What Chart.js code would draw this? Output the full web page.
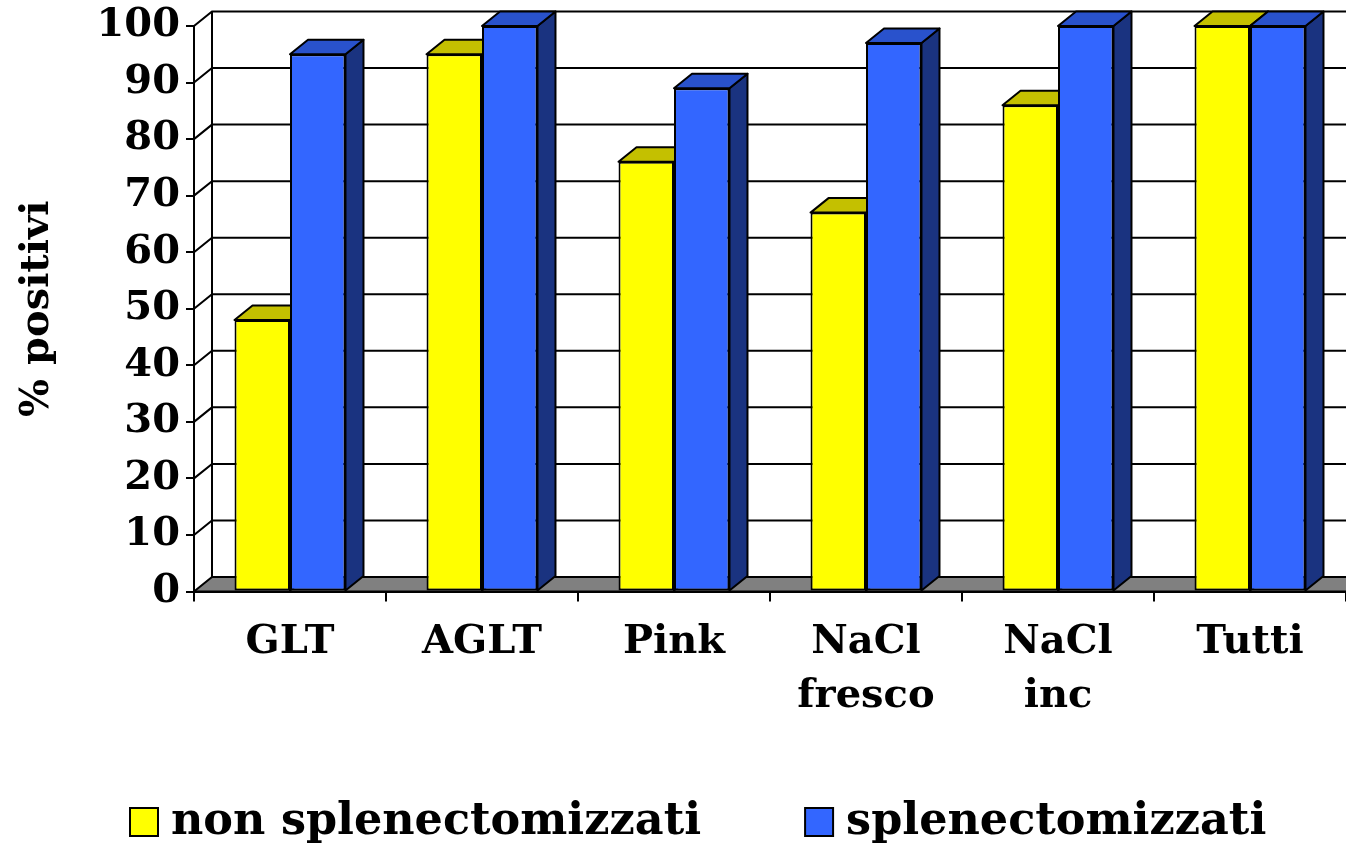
<!DOCTYPE html>
<html>
<head>
<meta charset="utf-8">
<script src="https://cdn.jsdelivr.net/npm/chart.js@4.4.0/dist/chart.umd.min.js"></script>
<style>
    html, body { margin: 0; padding: 0; background: #fff; }
</style>
</head>
<body>
<canvas id="chart" width="1346" height="848"></canvas>
<script>
const categories = ['GLT', 'AGLT', 'Pink', ['NaCl', 'fresco'], ['NaCl', 'inc'], 'Tutti'];
const nonSplenectomized = [48, 95, 76, 67, 86, 100];
const splenectomized = [95, 100, 89, 97, 100, 100];
const seriesNames = ['non splenectomizzati', 'splenectomizzati'];
const yMin = 0, yMax = 100, yStep = 10;

const DEPTH_X = 18;
const DEPTH_Y = 14.5;
const FONT = "'DejaVu Serif', serif";

// colours of the fake 3d faces
const faceColors = [
    { front: '#FFFF00', top: '#C4C000', side: '#808000' },
    { front: '#3366FF', top: '#2952CC', side: '#1A3380' }
];

const box3d = {
    id: 'box3d',
    beforeDatasetsDraw(chart) {
        const { ctx, chartArea: area, scales: { y } } = chart;
        const left = area.left, right = area.right;
        const y0 = y.getPixelForValue(yMin);
        ctx.save();

        // floor
        ctx.fillStyle = '#808080';
        ctx.beginPath();
        ctx.moveTo(left, y0);
        ctx.lineTo(left + DEPTH_X, y0 - DEPTH_Y);
        ctx.lineTo(right + DEPTH_X, y0 - DEPTH_Y);
        ctx.lineTo(right, y0);
        ctx.closePath();
        ctx.fill();

        // back wall grid + side wall diagonals
        ctx.strokeStyle = '#000';
        ctx.lineWidth = 2;
        for (let v = yMin; v <= yMax; v += yStep) {
            const py = y.getPixelForValue(v);
            ctx.beginPath();
            ctx.moveTo(left, py);
            ctx.lineTo(left + DEPTH_X, py - DEPTH_Y);
            ctx.lineTo(right + DEPTH_X, py - DEPTH_Y);
            ctx.stroke();
        }
        ctx.beginPath();
        ctx.moveTo(left + DEPTH_X, y.getPixelForValue(yMax) - DEPTH_Y);
        ctx.lineTo(left + DEPTH_X, y0 - DEPTH_Y);
        ctx.stroke();
        ctx.beginPath();
        ctx.moveTo(left, y0);
        ctx.lineTo(right, y0);
        ctx.stroke();

        // side and top faces of the bars, fronts are drawn by chart.js
        ctx.lineJoin = 'round';
        chart.data.datasets.forEach((ds, i) => {
            const c = faceColors[i];
            chart.getDatasetMeta(i).data.forEach(bar => {
                const { x, y: top, base, width } = bar.getProps(['x', 'y', 'base', 'width'], true);
                const l = x - width / 2, r = x + width / 2;

                ctx.fillStyle = c.side;
                ctx.beginPath();
                ctx.moveTo(r, top);
                ctx.lineTo(r + DEPTH_X, top - DEPTH_Y);
                ctx.lineTo(r + DEPTH_X, base - DEPTH_Y);
                ctx.lineTo(r, base);
                ctx.closePath();
                ctx.fill();
                ctx.stroke();

                ctx.fillStyle = c.top;
                ctx.beginPath();
                ctx.moveTo(l, top);
                ctx.lineTo(l + DEPTH_X, top - DEPTH_Y);
                ctx.lineTo(r + DEPTH_X, top - DEPTH_Y);
                ctx.lineTo(r, top);
                ctx.closePath();
                ctx.fill();
                ctx.stroke();
            });
        });
        ctx.restore();
    }
};

// legend drawn by hand: the built-in one can't do the wide gap on one row
const bottomLegend = {
    id: 'bottomLegend',
    afterDraw(chart) {
        const { ctx } = chart;
        const cy = 822;
        let x = 130;
        ctx.save();
        ctx.font = 'bold 44.5px ' + FONT;
        ctx.textBaseline = 'middle';
        ctx.textAlign = 'left';
        chart.data.datasets.forEach((ds, i) => {
            ctx.fillStyle = ds.backgroundColor;
            ctx.strokeStyle = '#000';
            ctx.lineWidth = 2;
            ctx.fillRect(x, cy - 14, 28, 28);
            ctx.strokeRect(x, cy - 14, 28, 28);
            x += 28 + 13;
            ctx.fillStyle = '#000';
            ctx.fillText(ds.label, x, cy);
            x += ctx.measureText(ds.label).width + 104;
        });
        ctx.restore();
    }
};

new Chart(document.getElementById('chart'), {
    type: 'bar',
    data: {
        labels: categories,
        datasets: [{
            label: seriesNames[0],
            data: nonSplenectomized,
            backgroundColor: faceColors[0].front,
            borderColor: '#000',
            borderWidth: 2,
            borderSkipped: false
        }, {
            label: seriesNames[1],
            data: splenectomized,
            backgroundColor: faceColors[1].front,
            borderColor: '#000',
            borderWidth: 2,
            borderSkipped: false
        }]
    },
    options: {
        responsive: false,
        animation: false,
        layout: {
            padding: { top: 24, right: 0, bottom: 110, left: 0 }
        },
        datasets: {
            bar: {
                barPercentage: 1,
                categoryPercentage: 0.578
            }
        },
        plugins: {
            tooltip: { enabled: false },
            legend: { display: false }
        },
        scales: {
            x: {
                afterFit(scale) { scale.height = 146.5; },
                grid: {
                    drawOnChartArea: false,
                    color: '#000',
                    lineWidth: 2,
                    tickLength: 10
                },
                border: { color: '#000', width: 2 },
                ticks: {
                    color: '#000',
                    padding: 14,
                    maxRotation: 0,
                    font: { family: FONT, size: 40, weight: 'bold', lineHeight: 1.35 }
                }
            },
            y: {
                min: yMin,
                max: yMax,
                afterFit(scale) { scale.width = 194; },
                grid: {
                    drawOnChartArea: false,
                    color: '#000',
                    lineWidth: 2,
                    tickLength: 8
                },
                border: { color: '#000', width: 2 },
                ticks: {
                    stepSize: yStep,
                    autoSkip: false,
                    color: '#000',
                    padding: 6,
                    font: { family: FONT, size: 40, weight: 'bold', lineHeight: 1 }
                },
                title: {
                    display: true,
                    text: '% positivi',
                    color: '#000',
                    padding: { top: 14, bottom: 0 },
                    font: { family: FONT, size: 40, weight: 'bold' }
                }
            }
        }
    },
    plugins: [box3d, bottomLegend]
});
</script>
</body>
</html>
